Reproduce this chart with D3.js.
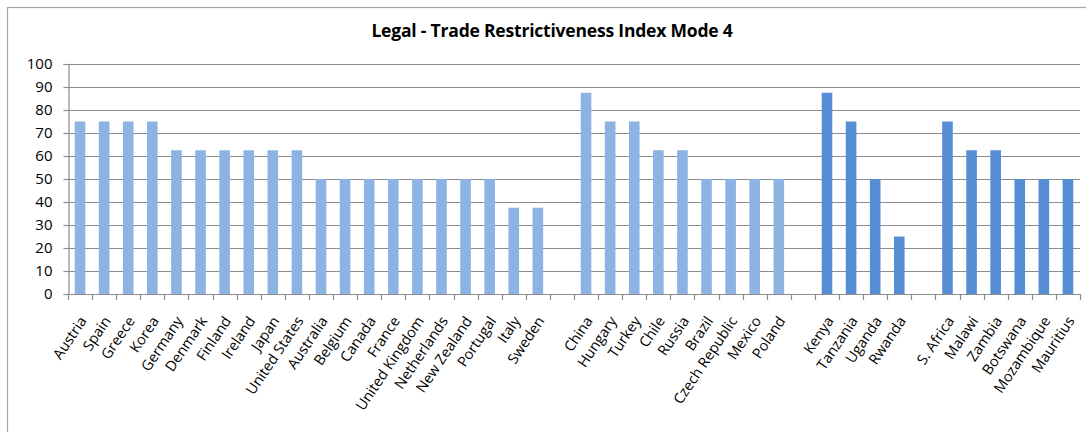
<!DOCTYPE html>
<html>
<head>
<meta charset="utf-8">
<script src="https://cdn.jsdelivr.net/npm/d3@7"></script>
<style>
  html, body { margin: 0; padding: 0; background: #fff; }
  svg { display: block; font-family: "Open Sans", Lato, sans-serif; }
</style>
</head>
<body>
<svg id="chart" width="1086" height="432"></svg>
<script>
// Country groups; empty strings are spacer slots between groups
const categories = [
  "Austria", "Spain", "Greece", "Korea", "Germany", "Denmark", "Finland", "Ireland",
  "Japan", "United States", "Australia", "Belgium", "Canada", "France", "United Kingdom",
  "Netherlands", "New Zealand", "Portugal", "Italy", "Sweden", "",
  "China", "Hungary", "Turkey", "Chile", "Russia", "Brazil", "Czech Republic", "Mexico", "Poland", "",
  "Kenya", "Tanzania", "Uganda", "Rwanda", "",
  "S. Africa", "Malawi", "Zambia", "Botswana", "Mozambique", "Mauritius"
];
const values = [
  75, 75, 75, 75, 62.5, 62.5, 62.5, 62.5,
  62.5, 62.5, 50, 50, 50, 50, 50,
  50, 50, 50, 37.5, 37.5, null,
  87.5, 75, 75, 62.5, 62.5, 50, 50, 50, 50, null,
  87.5, 75, 50, 25, null,
  75, 62.5, 62.5, 50, 50, 50
];
// Shade: 0 = OECD / emerging economies, 1 = African economies
const shade = [
  0, 0, 0, 0, 0, 0, 0, 0, 0, 0, 0, 0, 0, 0, 0, 0, 0, 0, 0, 0, 0,
  0, 0, 0, 0, 0, 0, 0, 0, 0, 0,
  1, 1, 1, 1, 1,
  1, 1, 1, 1, 1, 1
];
const yTicks = [0, 10, 20, 30, 40, 50, 60, 70, 80, 90, 100];
const title = "Legal - Trade Restrictiveness Index Mode 4";

const colors = ["#8DB3E2", "#558ED5"];
const svg = d3.select("#chart");
const W = 1086, H = 432;
const m = { left: 68, right: 1080, top: 64, bottom: 294 };

// Chart frame
svg.append("rect")
  .attr("x", 7.5).attr("y", 7.5)
  .attr("width", W + 10).attr("height", H + 10)
  .attr("fill", "#fff").attr("stroke", "#A6A6A6").attr("stroke-width", 1.2);

svg.append("text")
  .attr("x", 552).attr("y", 37)
  .attr("text-anchor", "middle")
  .attr("font-weight", "bold").attr("font-size", 17.5).attr("fill", "#000")
  .attr("letter-spacing", "-0.2")
  .text(title);

const idx = d3.range(categories.length);
const x = d3.scaleBand().domain(idx).range([m.left, m.right]).paddingInner(0.56).paddingOuter(0.28);
const slot = d3.scaleBand().domain(idx).range([m.left, m.right]);
const y = d3.scaleLinear().domain([0, 100]).range([m.bottom, m.top]);

// Gridlines
svg.append("g").selectAll("line").data(yTicks.filter(d => d > 0)).join("line")
  .attr("x1", m.left).attr("x2", m.right)
  .attr("y1", d => Math.round(y(d)) + 0.5).attr("y2", d => Math.round(y(d)) + 0.5)
  .attr("stroke", "#8C8C8C").attr("stroke-width", 1.2);

// Bars
svg.append("g").selectAll("rect").data(idx.filter(i => values[i] != null)).join("rect")
  .attr("x", i => x(i)).attr("width", x.bandwidth())
  .attr("y", i => y(values[i])).attr("height", i => y(0) - y(values[i]))
  .attr("fill", i => colors[shade[i]]);

// Y axis
const yAxis = svg.append("g")
  .attr("transform", `translate(${m.left + 0.5},0)`)
  .call(d3.axisLeft(y).tickValues(yTicks).tickSize(5).tickPadding(11));
yAxis.selectAll("path, line").attr("stroke", "#8C8C8C").attr("stroke-width", 1.2);
yAxis.selectAll("text").attr("font-size", 15).attr("fill", "#000")
  .attr("font-family", "'Open Sans', Lato, sans-serif");

// X axis with ticks at slot boundaries
const xg = svg.append("g");
xg.append("line")
  .attr("x1", m.left).attr("x2", m.right)
  .attr("y1", m.bottom + 0.5).attr("y2", m.bottom + 0.5)
  .attr("stroke", "#8C8C8C").attr("stroke-width", 1.2);
xg.selectAll("line.tick").data(d3.range(categories.length + 1)).join("line")
  .attr("class", "tick")
  .attr("x1", i => Math.round(m.left + i * slot.step()) + 0.5)
  .attr("x2", i => Math.round(m.left + i * slot.step()) + 0.5)
  .attr("y1", m.bottom).attr("y2", m.bottom + 6)
  .attr("stroke", "#8C8C8C").attr("stroke-width", 1.2);

xg.selectAll("text").data(idx.filter(i => categories[i] !== "")).join("text")
  .attr("transform", i => `translate(${slot(i) + slot.bandwidth() / 2 + 3},${m.bottom + 24}) rotate(-56)`)
  .attr("text-anchor", "end")
  .attr("dy", "0.35em")
  .attr("font-size", 14.5).attr("fill", "#000")
  .text(i => categories[i]);
</script>
</body>
</html>
